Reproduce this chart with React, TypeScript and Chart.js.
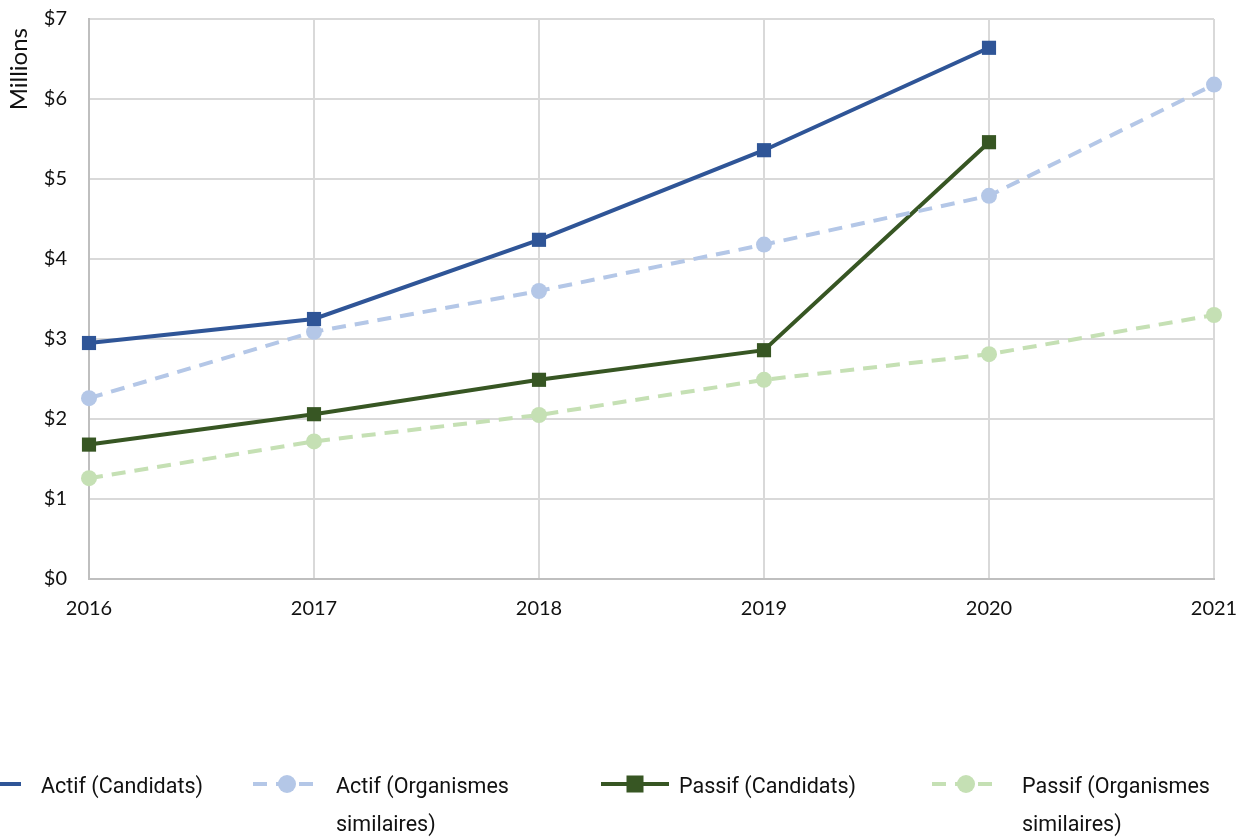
import React, { useEffect, useRef } from "react";
import { Chart, registerables } from "chart.js";

Chart.register(...registerables);

// Years on the horizontal axis
const years = ["2016", "2017", "2018", "2019", "2020", "2021"];

// Values in millions of dollars
const actifCandidats = [2.95, 3.25, 4.24, 5.36, 6.64, null];
const actifOrganismes = [2.26, 3.09, 3.6, 4.18, 4.79, 6.18];
const passifCandidats = [1.68, 2.06, 2.49, 2.86, 5.46, null];
const passifOrganismes = [1.26, 1.72, 2.05, 2.49, 2.81, 3.3];

const seriesLabels = [
  "Actif (Candidats)",
  "Actif (Organismes similaires)",
  "Passif (Candidats)",
  "Passif (Organismes similaires)",
];

const yMin = 0;
const yMax = 7;
const yStep = 1;
const yTitle = "Millions";

const BLUE = "#2F5597";
const LIGHT_BLUE = "#B4C7E7";
const GREEN = "#375623";
const LIGHT_GREEN = "#C5E0B4";

// Legend layout at the bottom of the canvas
const legendSwatchCenters = [-13, 287, 635, 966];
const legendTextX = [41, 336, 679, 1022];
const legendLineY = 784;
const legendTextY = 788;
const legendLineGap = 38;
const legendFont = "21.5px Roboto";
const legendWrapWidth = 200;

function wrapText(ctx: CanvasRenderingContext2D, text: string, maxWidth: number) {
  const words = text.split(" ");
  const lines: string[] = [];
  let current = "";
  for (const w of words) {
    const test = current ? current + " " + w : w;
    if (ctx.measureText(test).width > maxWidth && current) {
      lines.push(current);
      current = w;
    } else {
      current = test;
    }
  }
  if (current) lines.push(current);
  return lines;
}

// Rotated unit caption next to the top of the value axis
const unitCaption = {
  id: "unitCaption",
  afterDraw(chart: any) {
    const ctx: CanvasRenderingContext2D = chart.ctx;
    ctx.save();
    ctx.translate(19, chart.chartArea.top + 9);
    ctx.rotate(-Math.PI / 2);
    ctx.font = "24px Lato";
    ctx.fillStyle = "#111111";
    ctx.textAlign = "right";
    ctx.textBaseline = "middle";
    ctx.fillText(yTitle, 0, 0);
    ctx.restore();
  },
};

const bottomLegend = {
  id: "bottomLegend",
  afterDraw(chart: any) {
    const ctx: CanvasRenderingContext2D = chart.ctx;
    ctx.save();
    chart.data.datasets.forEach((ds: any, i: number) => {
      const cx = legendSwatchCenters[i];
      const x0 = cx - 34;
      const x1 = cx + 34;
      ctx.beginPath();
      ctx.strokeStyle = ds.borderColor;
      ctx.lineWidth = ds.borderWidth;
      ctx.setLineDash(ds.borderDash || []);
      ctx.lineDashOffset = 0;
      ctx.moveTo(x0, legendLineY);
      ctx.lineTo(x1, legendLineY);
      ctx.stroke();
      ctx.setLineDash([]);
      ctx.fillStyle = ds.pointBackgroundColor;
      if (ds.pointStyle === "rect") {
        ctx.fillRect(cx - 8.5, legendLineY - 8.5, 17, 17);
      } else {
        ctx.beginPath();
        ctx.arc(cx, legendLineY, 9, 0, Math.PI * 2);
        ctx.fill();
      }
      ctx.font = legendFont;
      ctx.fillStyle = "#111111";
      ctx.textAlign = "left";
      ctx.textBaseline = "middle";
      const lines = wrapText(ctx, ds.label, legendWrapWidth);
      lines.forEach((line, k) => {
        ctx.fillText(line, legendTextX[i], legendTextY + k * legendLineGap);
      });
    });
    ctx.restore();
  },
};

export default function App() {
  const canvasRef = useRef<HTMLCanvasElement | null>(null);

  useEffect(() => {
    if (!canvasRef.current) return;
    const chart = new Chart(canvasRef.current, {
      type: "line",
      data: {
        labels: years,
        datasets: [
          {
            label: seriesLabels[0],
            data: actifCandidats,
            borderColor: BLUE,
            backgroundColor: BLUE,
            pointBackgroundColor: BLUE,
            pointBorderColor: BLUE,
            borderWidth: 4,
            pointStyle: "rect",
            pointRadius: 10,
            pointBorderWidth: 0,
            spanGaps: false,
          },
          {
            label: seriesLabels[1],
            data: actifOrganismes,
            borderColor: LIGHT_BLUE,
            backgroundColor: LIGHT_BLUE,
            pointBackgroundColor: LIGHT_BLUE,
            pointBorderColor: LIGHT_BLUE,
            borderWidth: 4,
            borderDash: [14, 9],
            pointStyle: "circle",
            pointRadius: 8,
            pointBorderWidth: 0,
          },
          {
            label: seriesLabels[2],
            data: passifCandidats,
            borderColor: GREEN,
            backgroundColor: GREEN,
            pointBackgroundColor: GREEN,
            pointBorderColor: GREEN,
            borderWidth: 4,
            pointStyle: "rect",
            pointRadius: 10,
            pointBorderWidth: 0,
            spanGaps: false,
          },
          {
            label: seriesLabels[3],
            data: passifOrganismes,
            borderColor: LIGHT_GREEN,
            backgroundColor: LIGHT_GREEN,
            pointBackgroundColor: LIGHT_GREEN,
            pointBorderColor: LIGHT_GREEN,
            borderWidth: 4,
            borderDash: [14, 9],
            pointStyle: "circle",
            pointRadius: 8,
            pointBorderWidth: 0,
          },
        ] as any,
      },
      options: {
        animation: false,
        responsive: true,
        maintainAspectRatio: false,
        layout: { padding: { top: 19, right: 37, left: 0, bottom: 0 } },
        plugins: {
          legend: { display: false },
          tooltip: { enabled: false },
          title: { display: false },
        },
        elements: { line: { tension: 0 } },
        scales: {
          x: {
            type: "category",
            offset: false,
            grid: {
              color: "#D9D9D9",
              lineWidth: 2,
              drawTicks: true,
              tickLength: 18,
              tickColor: "rgba(0,0,0,0)",
            },
            border: { color: "#BFBFBF", width: 2 },
            ticks: {
              color: "#111111",
              font: { family: "Lato", size: 20 },
              padding: 0,
              maxRotation: 0,
              autoSkip: false,
            },
            afterFit: (scale: any) => {
              scale.height = 261;
            },
          },
          y: {
            min: yMin,
            max: yMax,
            grid: {
              color: "#D9D9D9",
              lineWidth: 2,
              drawTicks: true,
              tickLength: 22,
              tickColor: "rgba(0,0,0,0)",
            },
            border: { color: "#BFBFBF", width: 2 },
            ticks: {
              stepSize: yStep,
              color: "#111111",
              font: { family: "Lato", size: 20 },
              padding: 0,
              callback: (v: any) => "$" + v,
            },
            afterFit: (scale: any) => {
              scale.width = 89;
            },
          },
        },
      },
      plugins: [unitCaption, bottomLegend],
    });
    return () => chart.destroy();
  }, []);

  return (
    <div
      style={{
        position: "fixed",
        left: 0,
        top: 0,
        width: 1251,
        height: 840,
        background: "#ffffff",
      }}
    >
      <canvas ref={canvasRef} />
    </div>
  );
}
